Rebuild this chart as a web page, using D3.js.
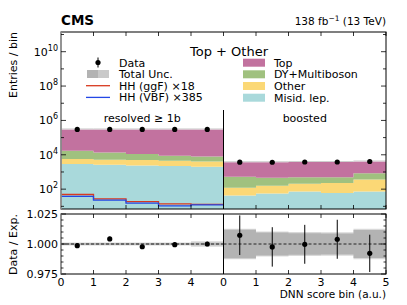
<!DOCTYPE html>
<html>
<head>
<meta charset="utf-8">
<script src="https://cdn.jsdelivr.net/npm/d3@7"></script>
<style>
  body { margin: 0; background: #fff; }
  text { font-family: "DejaVu Sans", sans-serif; fill: #000; }
</style>
</head>
<body>
<svg id="chart" width="407" height="305"></svg>
<script>
// bins of the DNN score, per region
var bins = [0, 1, 2, 3, 4];
var regionNames = ["resolved \u2265 1b", "boosted"];
var processNames = ["Misid. lep.", "Other", "DY+Multiboson", "Top"];
var processColors = ["#a9d9db", "#fbd876", "#a0c17f", "#c2729f"];

// resolved region yields (stack order: misid, other, DY, top)
var resMisid = [2900, 2600, 2400, 2200, 2000];
var resOther = [2700, 2500, 2500, 2300, 2100];
var resDY    = [11400, 8400, 6100, 4200, 3900];
var resTop   = [283000, 286500, 289000, 291300, 292000];
var resData  = [299580, 301260, 299310, 299820, 300000];
var resUncIn  = [0.0008, 0.0008, 0.0008, 0.0008, 0.0010];
var resUncOut = [0.0012, 0.0012, 0.0012, 0.0012, 0.0022];
var resGgF = [49, 27, 19, 14, 13];
var resVBF = [38, 23, 15.5, 10.7, 12.3];

// boosted region yields
var booMisid = [43, 56, 74, 59, 74];
var booOther = [76, 100, 130, 173, 290];
var booDY    = [400, 299, 296, 268, 486];
var booTop   = [3181, 3245, 3300, 3300, 3250];
var booData  = [3727, 3691, 3799, 3815, 4068];
var booUncIn  = [0.0118, 0.0095, 0.0090, 0.0088, 0.0117];
var booUncOut = [0.0128, 0.0105, 0.0100, 0.0098, 0.0127];

var regions = [
    {name: regionNames[0], stack: [resMisid, resOther, resDY, resTop], data: resData,
     uncIn: resUncIn, uncOut: resUncOut, ggf: resGgF, vbf: resVBF},
    {name: regionNames[1], stack: [booMisid, booOther, booDY, booTop], data: booData,
     uncIn: booUncIn, uncOut: booUncOut, ggf: null, vbf: null}
];

var left = 61, right = 386, mid = (left + right) / 2;
var mainTop = 32, mainBot = 209, ratTop = 214, ratBot = 274;

var svg = d3.select("#chart");

var y = d3.scaleLog().domain([7, 1.4e11]).range([mainBot, mainTop]);
var yr = d3.scaleLinear().domain([0.975, 1.025]).range([ratBot, ratTop]);
var xs = [
    d3.scaleLinear().domain([0, 5]).range([left, mid]),
    d3.scaleLinear().domain([0, 5]).range([mid, right])
];

svg.append("defs").append("clipPath").attr("id", "mainClip")
    .append("rect").attr("x", left).attr("y", mainTop)
    .attr("width", right - left).attr("height", mainBot - mainTop);

var plot = svg.append("g").attr("clip-path", "url(#mainClip)");

// step points for a per-bin array
function steps(x, vals, fy){
    var pts = [];
    bins.forEach(function(b, i){
        pts.push([x(b), fy(vals[i], i)]);
        pts.push([x(b + 1), fy(vals[i], i)]);
    });
    return pts;
}

regions.forEach(function(reg, ri){
    var x = xs[ri];
    var g = plot.append("g");

    // stacked histograms, one filled step area per process
    var cum = bins.map(function(){ return 0; });
    reg.stack.forEach(function(arr, pi){
        var lo = cum.slice();
        var hi = cum.map(function(c, i){ return c + arr[i]; });
        cum = hi;
        var top = steps(x, hi, function(v){ return y(v); });
        var bot = steps(x, lo, function(v){ return v > 0 ? y(v) : mainBot + 2; });
        var pts = top.concat(bot.reverse());
        g.append("path").attr("d", d3.line()(pts) + "Z")
            .attr("fill", processColors[pi]);
    });
    // top edge of total
    g.append("path").attr("d", d3.line()(steps(x, cum, function(v){ return y(v) - 0.5; })))
        .attr("fill", "none").attr("stroke", "#cfcfcf").attr("stroke-width", 1);

    // signal step lines
    [[reg.ggf, "#d8391f"], [reg.vbf, "#2347e6"]].forEach(function(s){
        if(!s[0]) return;
        g.append("path").attr("d", d3.line()(steps(x, s[0], function(v){ return y(v); })))
            .attr("fill", "none").attr("stroke", s[1]).attr("stroke-width", 1.3);
    });

    // data points
    g.selectAll("circle.data").data(reg.data).enter().append("circle")
        .attr("cx", function(d, i){ return x(bins[i] + 0.5); })
        .attr("cy", function(d){ return y(d); })
        .attr("r", 2.6).attr("fill", "#000");

    svg.append("text").attr("x", (x(0) + x(5)) / 2).attr("y", 122)
        .attr("text-anchor", "middle").attr("font-size", 11).text(reg.name);

    // ratio panel
    var rg = svg.append("g");
    var outer = steps(x, reg.uncOut, function(v){ return yr(1 + v); })
        .concat(steps(x, reg.uncOut, function(v){ return yr(1 - v); }).reverse());
    rg.append("path").attr("d", d3.line()(outer) + "Z").attr("fill", "#d9d9d9");
    var inner = steps(x, reg.uncIn, function(v){ return yr(1 + v); })
        .concat(steps(x, reg.uncIn, function(v){ return yr(1 - v); }).reverse());
    rg.append("path").attr("d", d3.line()(inner) + "Z").attr("fill", "#b3b3b3");
    rg.append("line").attr("x1", x(0)).attr("x2", x(5))
        .attr("y1", yr(1)).attr("y2", yr(1))
        .attr("stroke", "#000").attr("stroke-width", 0.8).attr("stroke-dasharray", "3,2");
    bins.forEach(function(b, i){
        var tot = d3.sum(reg.stack, function(a){ return a[i]; });
        var r = reg.data[i] / tot, e = Math.sqrt(reg.data[i]) / tot;
        rg.append("line").attr("x1", x(b + 0.5)).attr("x2", x(b + 0.5))
            .attr("y1", yr(r + e)).attr("y2", yr(r - e))
            .attr("stroke", "#000").attr("stroke-width", 1);
        rg.append("circle").attr("cx", x(b + 0.5)).attr("cy", yr(r))
            .attr("r", 2.6).attr("fill", "#000");
    });

    // x ticks (inward) on main top/bottom and ratio top/bottom
    [1, 2, 3, 4, 5].forEach(function(t){
        [[mainTop, 1], [mainBot, -1], [ratTop, 1], [ratBot, -1]].forEach(function(p){
            svg.append("line").attr("x1", x(t)).attr("x2", x(t))
                .attr("y1", p[0]).attr("y2", p[0] + p[1] * 4)
                .attr("stroke", "#000").attr("stroke-width", 0.8);
        });
    });
    var labs = ri == 0 ? [0, 1, 2, 3, 4] : [0, 1, 2, 3, 4, 5];
    labs.forEach(function(t){
        svg.append("text").attr("x", x(t)).attr("y", ratBot + 12)
            .attr("text-anchor", "middle").attr("font-size", 11).text(t);
    });
});

// frames
[[mainTop, mainBot, 110], [ratTop, ratBot, ratTop]].forEach(function(f){
    svg.append("rect").attr("x", left).attr("y", f[0])
        .attr("width", right - left).attr("height", f[1] - f[0])
        .attr("fill", "none").attr("stroke", "#000").attr("stroke-width", 1);
    svg.append("line").attr("x1", left).attr("x2", left).attr("y1", f[0]).attr("y2", f[1])
        .attr("stroke", "#9a9a9a").attr("stroke-width", 1.6);
    svg.append("line").attr("x1", mid).attr("x2", mid).attr("y1", f[2]).attr("y2", f[1])
        .attr("stroke", "#000").attr("stroke-width", 1);
});

// main y ticks
for(var k = 1; k <= 11; k++){
    var yy = y(Math.pow(10, k));
    var len = (k % 2 == 0) ? 5 : 3;
    svg.append("line").attr("x1", left).attr("x2", left + len).attr("y1", yy).attr("y2", yy)
        .attr("stroke", "#000").attr("stroke-width", 0.8);
    svg.append("line").attr("x1", right).attr("x2", right - len).attr("y1", yy).attr("y2", yy)
        .attr("stroke", "#000").attr("stroke-width", 0.8);
    if(k % 2 == 0 && k <= 10){
        var t = svg.append("text").attr("x", left - 3).attr("y", yy + 4)
            .attr("text-anchor", "end").attr("font-size", 11);
        t.append("tspan").text("10");
        t.append("tspan").attr("dy", -5).attr("font-size", 8).text(k);
    }
}

// ratio y ticks
d3.range(0.975, 1.0251, 0.005).forEach(function(v, i){
    var yy = yr(v), len = (i % 5 == 0) ? 5 : 2.5;
    svg.append("line").attr("x1", left).attr("x2", left + len).attr("y1", yy).attr("y2", yy)
        .attr("stroke", "#000").attr("stroke-width", 0.8);
    svg.append("line").attr("x1", right).attr("x2", right - len).attr("y1", yy).attr("y2", yy)
        .attr("stroke", "#000").attr("stroke-width", 0.8);
});
[0.975, 1.0, 1.025].forEach(function(v){
    svg.append("text").attr("x", left - 3).attr("y", yr(v) + 4)
        .attr("text-anchor", "end").attr("font-size", 11).text(d3.format(".3f")(v));
});

// axis labels
svg.append("text").attr("transform", "translate(17," + mainTop + ") rotate(-90)")
    .attr("text-anchor", "end").attr("font-size", 11).text("Entries / bin");
svg.append("text").attr("transform", "translate(17," + ratTop + ") rotate(-90)")
    .attr("text-anchor", "end").attr("font-size", 11).text("Data / Exp.");
svg.append("text").attr("x", right).attr("y", 298)
    .attr("text-anchor", "end").attr("font-size", 10.5).text("DNN score bin (a.u.)");

// header
svg.append("text").attr("x", left).attr("y", 25).attr("font-size", 13.5)
    .attr("font-weight", "bold").text("CMS");
var lumi = svg.append("text").attr("x", right).attr("y", 25)
    .attr("text-anchor", "end").attr("font-size", 10.5);
lumi.append("tspan").text("138 fb");
lumi.append("tspan").attr("dy", -4).attr("font-size", 7.5).text("\u22121");
lumi.append("tspan").attr("dy", 4).text(" (13 TeV)");

svg.append("text").attr("x", 229).attr("y", 56).attr("text-anchor", "middle")
    .attr("font-size", 13).text("Top + Other");

// legend, left column
var legL = [62.5, 74, 85.7, 97.4];
svg.append("line").attr("x1", 98).attr("x2", 98).attr("y1", legL[0] - 5).attr("y2", legL[0] + 5)
    .attr("stroke", "#000").attr("stroke-width", 1);
svg.append("circle").attr("cx", 98).attr("cy", legL[0]).attr("r", 2.6).attr("fill", "#000");
svg.append("rect").attr("x", 87).attr("y", legL[1] - 4).attr("width", 11).attr("height", 8).attr("fill", "#b3b3b3");
svg.append("rect").attr("x", 98).attr("y", legL[1] - 4).attr("width", 11).attr("height", 8).attr("fill", "#c9c9c9");
svg.append("line").attr("x1", 86).attr("x2", 110).attr("y1", legL[2]).attr("y2", legL[2])
    .attr("stroke", "#d8391f").attr("stroke-width", 1.3);
svg.append("line").attr("x1", 86).attr("x2", 110).attr("y1", legL[3]).attr("y2", legL[3])
    .attr("stroke", "#2347e6").attr("stroke-width", 1.3);
["Data", "Total Unc.", "HH (ggF) \u00d718", "HH (VBF) \u00d7385"].forEach(function(s, i){
    svg.append("text").attr("x", 119).attr("y", legL[i] + 4).attr("font-size", 11).text(s);
});

// legend, right column
var legR = [62.7, 74.3, 86, 97.7];
["Top", "DY+Multiboson", "Other", "Misid. lep."].forEach(function(s, i){
    var pi = processNames.indexOf(s);
    svg.append("rect").attr("x", 243).attr("y", legR[i] - 4).attr("width", 22).attr("height", 8)
        .attr("fill", processColors[pi]);
    svg.append("text").attr("x", 274).attr("y", legR[i] + 4).attr("font-size", 11).text(s);
});
</script>
</body>
</html>
